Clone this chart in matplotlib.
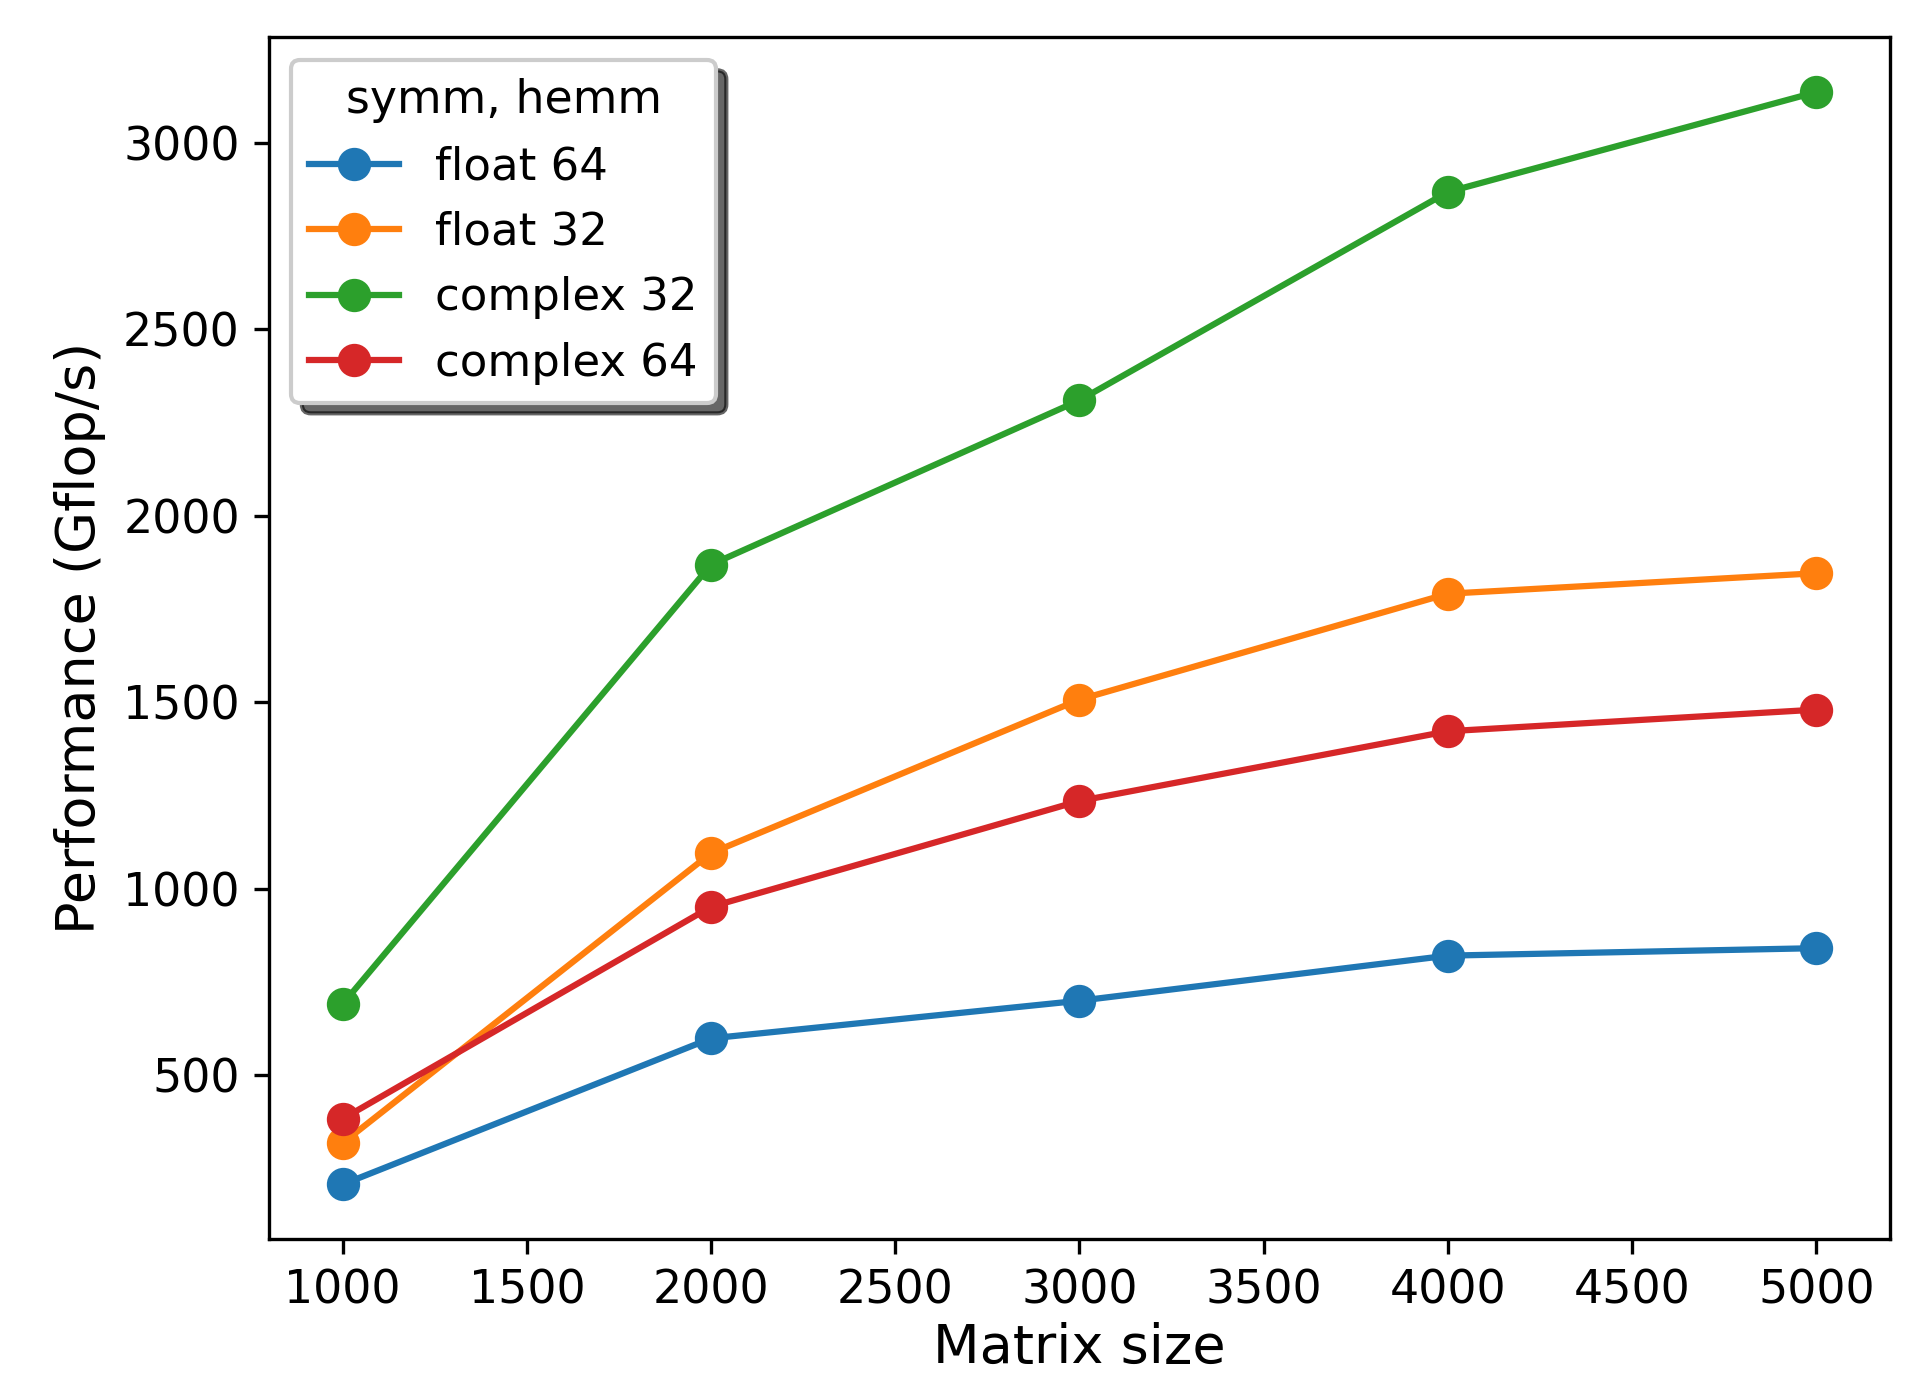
import matplotlib
matplotlib.use("Agg")
import matplotlib.pyplot as plt

sizes = [1000, 2000, 3000, 4000, 5000]
float64 = [206, 598, 699, 820, 840]
float32 = [317, 1095, 1507, 1791, 1846]
complex32 = [690, 1869, 2310, 2869, 3137]
complex64 = [382, 951, 1235, 1422, 1480]

fig = plt.figure(figsize=(6.38, 4.62), dpi=300)
ax = fig.add_axes([0.1405, 0.106, 0.847, 0.867])

ax.plot(sizes, float64, 'o-', label='float 64', markersize=7)
ax.plot(sizes, float32, 'o-', label='float 32', markersize=7)
ax.plot(sizes, complex32, 'o-', label='complex 32', markersize=7)
ax.plot(sizes, complex64, 'o-', label='complex 64', markersize=7)

ax.set_xlabel('Matrix size', fontsize=13, labelpad=2)
ax.set_ylabel('Performance (Gflop/s)', fontsize=13)
ax.tick_params(labelsize=11)
ax.legend(title='symm, hemm', shadow={'color': 'k', 'alpha': 0.6, 'ox': 2.5, 'oy': -2.5},
          fontsize=10.8, title_fontsize=11, loc='upper left')

fig.savefig('out.png', dpi=300)
